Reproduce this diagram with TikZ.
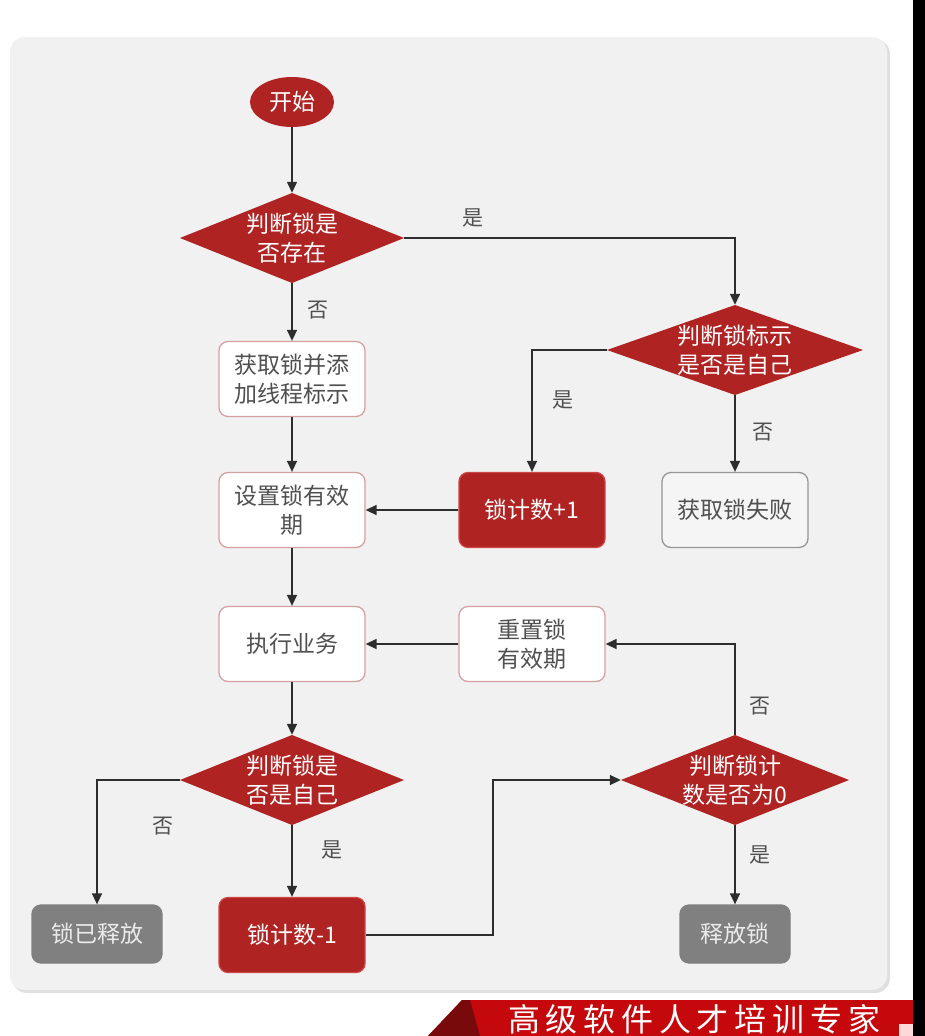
\documentclass[tikz,border=0pt]{standalone}
\usepackage{fontspec}
\newfontfamily\cjk{Noto Sans CJK SC}
\newfontfamily\bannerfont[LetterSpace=18]{Noto Sans CJK SC}
\usetikzlibrary{arrows.meta,shapes.geometric}

\definecolor{flowred}{RGB}{176,35,35}
\definecolor{flowredline}{RGB}{205,70,70}
\definecolor{pinkline}{RGB}{214,160,160}
\definecolor{panelgray}{RGB}{241,241,241}
\definecolor{boxgray}{RGB}{128,128,128}
\definecolor{failfill}{RGB}{245,245,245}
\definecolor{failline}{RGB}{150,150,150}
\definecolor{textgray}{RGB}{80,80,80}
\definecolor{linegray}{RGB}{45,45,45}
\definecolor{bannerred}{RGB}{196,8,12}
\definecolor{bannerdark}{RGB}{120,10,12}

\tikzset{
  basefont/.style={font=\cjk\fontsize{23}{29}\selectfont, align=center},
  procbox/.style={basefont, rectangle, rounded corners=9pt, line width=1.3pt,
    minimum width=146pt, minimum height=75pt, inner sep=0pt},
  whitebox/.style={procbox, fill=white, draw=pinkline, text=textgray},
  redbox/.style={procbox, fill=flowred, draw=flowredline, text=white},
  graybox/.style={procbox, fill=boxgray, draw=boxgray, text=white!92!black,
    minimum height=58pt},
  failbox/.style={procbox, fill=failfill, draw=failline, text=textgray},
  decision/.style={basefont, rectangle, inner sep=0pt, text=white,
    minimum height=90pt,
    path picture={\fill[flowred] (path picture bounding box.north)
      -- (path picture bounding box.east) -- (path picture bounding box.south)
      -- (path picture bounding box.west) -- cycle;}},
  startnode/.style={basefont, ellipse, fill=flowred, text=white,
    minimum width=84pt, minimum height=50pt, inner sep=0pt},
  flow/.style={draw=linegray, line width=1.4pt,
    -{Triangle[length=11pt,width=10pt]}},
  edgelabel/.style={font=\cjk\fontsize{21}{24}\selectfont, text=textgray, inner sep=0pt}
}

\begin{document}
\begin{tikzpicture}[x=1pt,y=-1pt]
  \useasboundingbox (0,0) rectangle (925,1036);
  \clip (0,0) rectangle (925,1036);
  \fill[white] (0,0) rectangle (925,1036);

  % panel with a soft edge shadow
  \fill[black!12, rounded corners=15pt] (12,39) rectangle (890,993);
  \fill[panelgray, rounded corners=15pt] (10,37) rectangle (887,990);

  % bottom banner
  \fill[bannerred] (462,1000) -- (925,1000) -- (925,1036) -- (428,1036) -- cycle;
  \fill[bannerdark] (462,1000) -- (470,1000) -- (480,1036) -- (428,1036) -- cycle;
  \node[font=\bannerfont\fontsize{32}{36}\selectfont, text=white, anchor=west, inner sep=0pt]
    (slogan) at (508,1019) {高级软件人才培训专家};
  \fill[white!85!red] (899,1024) rectangle (913,1036);
  % right border strip
  \fill[black] (913,0) rectangle (925,1036);

  % nodes
  \node[startnode] (start) at (292,102) {开始};
  \node[decision, minimum width=224pt] (d1) at (292,238) {判断锁是\\否存在};
  \node[decision, minimum width=256pt] (d2) at (735,350) {判断锁标示\\是否是自己};
  \node[whitebox] (b1) at (292,379) {获取锁并添\\加线程标示};
  \node[whitebox] (b2) at (292,510) {设置锁有效\\期};
  \node[redbox] (inc) at (532,510) {锁计数+1};
  \node[failbox] (fail) at (735,510) {获取锁失败};
  \node[whitebox] (exec) at (292,644) {执行业务};
  \node[whitebox] (reset) at (532,644) {重置锁\\有效期};
  \node[decision, minimum width=224pt] (d3) at (292,780) {判断锁是\\否是自己};
  \node[decision, minimum width=228pt] (d4) at (735,780) {判断锁计\\数是否为0};
  \node[graybox, minimum width=130pt] (freed) at (97,934) {锁已释放};
  \node[redbox] (dec) at (292,935) {锁计数-1};
  \node[graybox, minimum width=110pt] (rel) at (735,934) {释放锁};
  \coordinate (bend) at (493,780);

  % connectors
  \draw[flow] (start.south) -- (d1.north);
  \draw[flow] (d1.east) -| (d2.north);
  \draw[flow] (d1.south) -- (b1.north);
  \draw[flow] (b1.south) -- (b2.north);
  \draw[flow] (d2.west) -| (inc.north);
  \draw[flow] (d2.south) -- (fail.north);
  \draw[flow] (inc.west) -- (b2.east);
  \draw[flow] (b2.south) -- (exec.north);
  \draw[flow] (reset.west) -- (exec.east);
  \draw[flow] (exec.south) -- (d3.north);
  \draw[flow] (d3.west) -| (freed.north);
  \draw[flow] (d3.south) -- (dec.north);
  \draw[flow] (dec.east) -| (bend) -- (d4.west);
  \draw[flow] (d4.north) |- (reset.east);
  \draw[flow] (d4.south) -- (rel.north);

  % branch labels
  \node[edgelabel] (l1) at (473,218) {是};
  \node[edgelabel] (l2) at (318,310) {否};
  \node[edgelabel] (l3) at (563,400) {是};
  \node[edgelabel] (l4) at (763,432) {否};
  \node[edgelabel] (l5) at (760,706) {否};
  \node[edgelabel] (l6) at (163,826) {否};
  \node[edgelabel] (l7) at (332,850) {是};
  \node[edgelabel] (l8) at (760,855) {是};
\end{tikzpicture}
\end{document}
